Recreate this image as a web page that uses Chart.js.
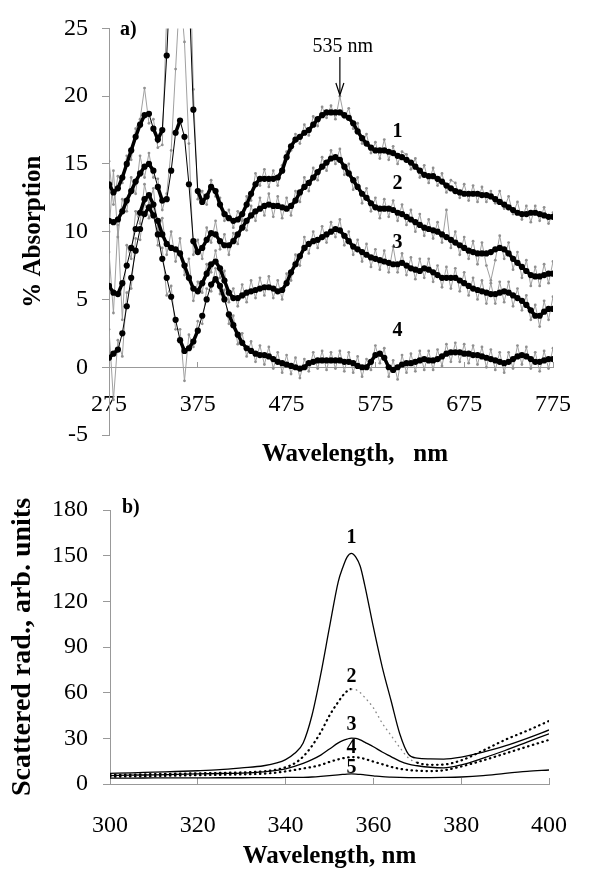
<!DOCTYPE html>
<html>
<head>
<meta charset="utf-8">
<title>Absorption and scattered radiation spectra</title>
<script src="https://cdn.jsdelivr.net/npm/chart.js@4.4.1/dist/chart.umd.min.js"></script>
<style>
  body { margin: 0; background: #fff; }
  #wrap { position: relative; width: 600px; height: 869px; }
  canvas { position: absolute; left: 0; }
  #chartA { top: 0; }
  #chartB { top: 470px; }
</style>
</head>
<body>
<div id="wrap">
  <canvas id="chartA" width="600" height="470"></canvas>
  <canvas id="chartB" width="600" height="399"></canvas>
</div>
<script>
// ---- panel a) : % absorption, 275-775 nm, 5 nm steps ----
const wavelengthsA = [
  275, 280, 285, 290, 295, 300, 305, 310, 315, 320,
  325, 330, 335, 340, 345, 350, 355, 360, 365, 370,
  375, 380, 385, 390, 395, 400, 405, 410, 415, 420,
  425, 430, 435, 440, 445, 450, 455, 460, 465, 470,
  475, 480, 485, 490, 495, 500, 505, 510, 515, 520,
  525, 530, 535, 540, 545, 550, 555, 560, 565, 570,
  575, 580, 585, 590, 595, 600, 605, 610, 615, 620,
  625, 630, 635, 640, 645, 650, 655, 660, 665, 670,
  675, 680, 685, 690, 695, 700, 705, 710, 715, 720,
  725, 730, 735, 740, 745, 750, 755, 760, 765, 770,
  775
];
const xTicksA = [275, 375, 475, 575, 675, 775];
const curveNamesA = ['1', '2', '3', '4'];

// smoothed curves (black dots)
const smooth1 = [
  13.5, 12.9, 13.2, 14.0, 15.0, 16.0, 17.0, 17.9, 18.6, 18.7,
  17.6, 16.8, 17.5, 23.0, 30.0, 35.0, 38.0, 35.0, 28.0, 19.0,
  13.0, 12.2, 12.6, 13.3, 13.0, 12.0, 11.3, 11.0, 10.8, 10.9,
  11.3, 12.0, 12.8, 13.5, 13.9, 13.9, 13.9, 13.9, 14.0, 14.5,
  15.5, 16.3, 16.8, 17.0, 17.3, 17.5, 17.9, 18.3, 18.6, 18.8,
  18.8, 18.8, 18.8, 18.6, 18.4, 18.0, 17.4, 16.9, 16.5, 16.2,
  16.0, 16.0, 16.0, 15.9, 15.8, 15.6, 15.5, 15.3, 15.1, 14.8,
  14.5, 14.2, 14.1, 14.1, 13.9, 13.7, 13.4, 13.2, 13.0, 12.9,
  12.8, 12.8, 12.8, 12.8, 12.7, 12.7, 12.6, 12.4, 12.2, 12.0,
  11.8, 11.6, 11.4, 11.3, 11.3, 11.4, 11.4, 11.3, 11.2, 11.1,
  11.1
];
const smooth2 = [
  10.8, 10.7, 10.9, 11.5, 12.3, 13.0, 13.7, 14.3, 14.8, 15.0,
  14.5, 13.3, 12.3, 12.4, 14.5, 17.3, 18.2, 17.0, 13.5, 9.3,
  8.5, 8.8, 9.4, 9.9, 9.8, 9.3, 9.0, 9.0, 9.3, 9.8,
  10.3, 10.8, 11.2, 11.5, 11.7, 11.9, 12.0, 11.9, 11.9, 11.8,
  11.7, 11.9, 12.3, 12.9, 13.3, 13.6, 14.0, 14.4, 14.8, 15.1,
  15.4, 15.5, 15.3, 14.8, 14.3, 13.8, 13.3, 12.8, 12.5, 12.1,
  11.8, 11.7, 11.7, 11.7, 11.6, 11.4, 11.3, 11.1, 10.9, 10.7,
  10.5, 10.3, 10.2, 10.1, 10.0, 9.8, 9.6, 9.4, 9.2, 9.0,
  8.8, 8.6, 8.5, 8.4, 8.4, 8.4, 8.5, 8.7, 8.8, 8.7,
  8.4, 8.0, 7.7, 7.4, 7.1, 6.8, 6.7, 6.7, 6.8, 6.9,
  6.9
];
const smooth3 = [
  6.0, 5.5, 5.4, 6.2, 7.5, 8.8, 10.2, 11.4, 12.4, 12.7,
  12.0, 10.8, 9.8, 9.1, 8.8, 8.7, 8.4, 7.5, 6.6, 5.8,
  5.6, 6.2, 6.9, 7.6, 7.8, 7.3, 6.4, 5.5, 5.1, 5.1,
  5.3, 5.5, 5.6, 5.7, 5.8, 5.9, 5.9, 5.8, 5.6, 5.7,
  6.2, 7.0, 7.6, 8.2, 8.8, 9.1, 9.3, 9.4, 9.6, 9.8,
  10.0, 10.2, 10.1, 9.7, 9.3, 8.9, 8.7, 8.5, 8.3, 8.1,
  8.0, 7.9, 7.8, 7.7, 7.6, 7.6, 7.7, 7.5, 7.3, 7.2,
  7.1, 7.3, 7.2, 7.0, 6.8, 6.6, 6.6, 6.6, 6.6, 6.4,
  6.2, 6.0, 5.8, 5.7, 5.6, 5.5, 5.4, 5.4, 5.5, 5.6,
  5.5, 5.3, 5.1, 4.9, 4.6, 4.2, 3.8, 3.8, 4.1, 4.3,
  4.3
];
const smooth4 = [
  0.7, 1.0, 1.3, 2.5, 4.5, 6.6, 8.6, 10.2, 11.3, 11.8,
  11.2, 9.8, 8.0, 6.6, 5.2, 3.5, 2.0, 1.2, 1.4, 1.9,
  2.7, 3.8, 5.0, 6.1, 6.5, 6.0, 5.0, 3.9, 3.1, 2.4,
  1.8, 1.4, 1.2, 1.0, 0.9, 0.9, 0.8, 0.6, 0.4, 0.3,
  0.2, 0.1, 0.0, -0.1, 0.0, 0.3, 0.4, 0.5, 0.5, 0.5,
  0.5, 0.5, 0.5, 0.4, 0.4, 0.3, 0.1, 0.0, 0.0, 0.4,
  0.9, 1.0, 0.7, 0.0, -0.2, 0.0, 0.2, 0.3, 0.3, 0.4,
  0.5, 0.6, 0.5, 0.5, 0.6, 0.8, 1.0, 1.1, 1.1, 1.1,
  1.0, 1.0, 0.9, 0.9, 0.8, 0.7, 0.6, 0.5, 0.4, 0.3,
  0.4, 0.6, 0.8, 0.9, 0.8, 0.6, 0.4, 0.4, 0.5, 0.6,
  0.6
];

// raw measured curves (grey)
const raw1 = [
  15.2, 12.0, 14.1, 13.6, 15.6, 15.3, 17.6, 18.3, 20.6, 18.0,
  18.3, 16.2, 16.4, 26.0, 38.0, 45.0, 50.0, 42.0, 33.0, 20.5,
  12.4, 13.0, 12.0, 13.8, 12.6, 12.5, 10.8, 11.6, 10.3, 11.5,
  10.8, 12.6, 12.3, 14.3, 13.4, 14.6, 13.3, 14.5, 13.4, 14.9,
  15.9, 16.0, 17.2, 16.5, 17.9, 17.1, 18.5, 17.8, 19.2, 18.4,
  19.3, 18.3, 20.0, 18.4, 19.1, 17.6, 18.0, 16.5, 17.2, 15.8,
  16.6, 15.4, 16.8, 15.3, 16.3, 15.0, 15.9, 15.7, 14.6, 15.4,
  14.0, 14.9, 13.6, 14.7, 13.4, 14.3, 12.9, 13.8, 13.6, 12.5,
  13.5, 12.3, 13.4, 12.2, 13.3, 12.2, 13.0, 12.1, 13.0, 11.7,
  12.6, 11.3, 12.2, 10.9, 11.9, 10.7, 11.9, 10.8, 11.8, 10.6,
  11.4
];
const raw2 = [
  10.0, 14.5, 9.6, 12.4, 11.5, 14.0, 12.8, 15.6, 14.0, 15.8,
  14.0, 13.9, 11.6, 12.8, 16.0, 22.0, 28.0, 24.0, 16.5, 8.3,
  9.4, 8.0, 10.3, 9.2, 10.8, 8.7, 9.8, 8.3, 9.9, 9.1,
  10.9, 10.1, 11.9, 10.8, 12.5, 11.2, 12.8, 11.1, 12.6, 11.0,
  12.5, 11.2, 13.0, 12.2, 14.0, 13.0, 14.7, 13.8, 15.5, 14.5,
  16.0, 15.0, 16.1, 14.2, 15.0, 13.1, 14.0, 12.1, 13.2, 11.5,
  12.5, 11.0, 12.4, 11.1, 12.3, 10.8, 12.0, 10.5, 11.6, 10.0,
  11.3, 9.7, 10.9, 9.5, 10.7, 9.2, 11.6, 8.8, 10.0, 8.3,
  9.6, 8.0, 9.3, 7.6, 9.2, 7.5, 6.4, 7.9, 9.7, 8.0,
  9.2, 7.2, 8.5, 6.6, 7.9, 6.0, 7.4, 6.0, 7.6, 6.2,
  7.8
];
const raw3 = [
  8.5, 4.0, 10.5, 3.5, 9.0, 8.0, 11.5, 10.6, 13.5, 12.0,
  13.2, 10.0, 11.0, 8.3, 10.0, 7.8, 9.5, 6.8, 8.0, 4.9,
  6.3, 5.5, 7.6, 7.0, 8.6, 6.6, 7.1, 4.8, 5.8, 4.5,
  6.1, 4.8, 6.4, 5.1, 6.6, 5.3, 6.7, 5.1, 6.4, 5.0,
  6.9, 6.4, 8.3, 7.5, 9.6, 8.4, 10.0, 8.8, 10.4, 9.2,
  10.7, 9.6, 10.9, 9.0, 10.0, 8.3, 9.4, 7.8, 9.1, 7.4,
  8.7, 7.2, 8.6, 7.0, 8.9, 7.0, 8.4, 6.8, 8.1, 6.5,
  8.0, 6.6, 8.0, 6.3, 7.5, 5.9, 7.4, 5.8, 7.3, 5.6,
  7.0, 5.3, 6.6, 5.0, 6.4, 4.7, 6.2, 4.7, 6.3, 4.8,
  6.3, 4.5, 5.8, 4.2, 5.3, 3.5, 4.6, 3.0, 4.9, 3.5,
  5.2
];
const raw4 = [
  2.8, -2.4, 2.0, 0.8, 5.5, 5.8, 9.5, 9.4, 12.2, 11.0,
  12.0, 9.0, 8.8, 5.3, 6.0, 2.8, 2.8, -1.0, 2.4, 1.5,
  3.4, 3.2, 5.8, 5.6, 7.3, 5.4, 5.7, 3.2, 3.8, 1.7,
  2.5, 0.8, 1.9, 0.4, 1.6, 0.2, 1.5, -0.1, 1.1, -0.4,
  0.9, -0.5, 0.7, -0.8, 0.6, -0.3, 1.1, -0.1, 1.2, -0.2,
  1.1, -0.1, 1.2, -0.3, 1.1, -0.4, 0.8, -0.7, 0.6, -0.2,
  1.6, 0.3, 1.4, -0.7, 0.5, -0.9, 0.9, -0.4, 1.0, -0.3,
  1.2, -0.2, 1.2, -0.2, 1.3, 0.1, 1.7, 0.4, 1.8, 0.4,
  1.7, 0.3, 1.6, 0.2, 1.5, 0.0, 1.3, -0.2, 1.1, -0.4,
  1.1, -0.1, 1.6, 0.2, 1.5, -0.1, 1.1, -0.3, 1.2, -0.1,
  1.4
];

// ---- panel b) : scattered radiation, 300-400 nm ----
const wavelengthsB = [
  300, 305, 310, 315, 320, 325, 330, 335, 338, 340,
  342, 344, 346, 348, 350, 352, 353, 354, 355, 356,
  357, 358, 360, 362, 364, 366, 368, 370, 373, 376,
  380, 385, 390, 395, 400
];
const curveNamesB = ['1', '2', '3', '4', '5'];
const scatter1 = [
  7.0, 7.3, 7.8, 8.2, 8.7, 9.4, 10.6, 12.0, 13.8, 16.0,
  20.0, 27.0, 45.0, 72.0, 103.0, 133.0, 142.0, 149.0, 151.5, 149.0,
  143.0, 131.0, 103.0, 77.0, 55.0, 33.0, 19.5, 17.0, 16.5, 16.4,
  17.7, 21.0, 25.0, 30.0, 35.5
];
const scatter2 = [
  6.0, 6.2, 6.5, 6.8, 7.0, 7.3, 7.6, 8.3, 9.5, 11.0,
  13.5, 18.0, 25.0, 34.0, 45.0, 54.0, 58.0, 61.0, 62.4, 62.0,
  60.0, 57.0, 50.0, 40.0, 32.0, 24.0, 17.0, 14.0, 12.6, 12.8,
  15.5, 22.0, 29.0, 35.0, 41.4
];
const scatter3 = [
  5.5, 5.8, 6.0, 6.3, 6.6, 6.9, 7.2, 8.0, 9.0, 10.0,
  11.5, 13.5, 16.0, 19.0, 23.0, 27.0, 28.5, 29.5, 30.2, 30.0,
  29.0, 27.5, 24.5, 21.0, 18.0, 15.0, 13.0, 12.0, 11.0, 10.6,
  12.5, 17.0, 22.0, 27.5, 33.0
];
const scatter4 = [
  4.8, 5.0, 5.2, 5.5, 5.8, 6.0, 6.3, 6.8, 7.5, 8.3,
  9.2, 10.2, 11.2, 12.5, 14.5, 16.2, 16.9, 17.4, 17.7, 17.6,
  17.2, 16.5, 14.7, 13.0, 11.3, 10.0, 9.2, 8.7, 8.5, 9.0,
  11.5, 15.5, 20.0, 24.5, 29.0
];
const scatter5 = [
  3.9, 3.9, 4.0, 4.0, 4.0, 4.1, 4.1, 4.2, 4.2, 4.3,
  4.3, 4.4, 4.6, 5.0, 5.5, 6.0, 6.3, 6.5, 6.6, 6.5,
  6.3, 6.0, 5.4, 4.8, 4.5, 4.3, 4.2, 4.2, 4.2, 4.3,
  4.6, 5.5, 7.0, 8.3, 9.2
];

Chart.defaults.font.family = "'Liberation Serif', 'Times New Roman', serif";
Chart.defaults.color = '#000';
Chart.defaults.animation = false;

const axisGrey = '#999';
const pts = (xs, ys) => xs.map((x, i) => ({ x: x, y: ys[i] }));

function smoothSet(values) {
  return {
    data: pts(wavelengthsA, values),
    borderColor: '#000', borderWidth: 3.5,
    pointRadius: 3.1, pointBackgroundColor: '#000', pointBorderWidth: 0,
    // on very steep stretches the dots separate and only a thin line joins them
    segment: { borderWidth: c => (Math.abs(c.p1.y - c.p0.y) > 14 ? 1 : undefined) },
    order: 0
  };
}
function rawSet(values) {
  return {
    data: pts(wavelengthsA, values),
    borderColor: '#a0a0a0', borderWidth: 1,
    pointRadius: 1.4, pointBackgroundColor: '#909090', pointBorderWidth: 0,
    order: 1
  };
}

const panelAText = {
  id: 'panelAText',
  afterDraw(chart) {
    const { ctx, chartArea, scales: { x, y } } = chart;
    ctx.save();
    ctx.fillStyle = '#000';
    ctx.strokeStyle = '#000';
    ctx.textBaseline = 'middle';

    ctx.font = "bold 20px 'Liberation Serif', serif";
    ctx.textAlign = 'left';
    ctx.fillText('a)', chartArea.left + 11, chartArea.top + 1);

    // curve numbers
    ctx.textAlign = 'center';
    const labelLevels = [17.4, 13.5, 9.2, 2.7];
    curveNamesA.forEach((name, i) => {
      ctx.fillText(name, x.getPixelForValue(600), y.getPixelForValue(labelLevels[i]));
    });

    // 535 nm arrow
    const px = x.getPixelForValue(535);
    ctx.font = "20px 'Liberation Serif', serif";
    ctx.fillText('535 nm', px + 3, 47);
    ctx.lineWidth = 1.2;
    ctx.beginPath();
    ctx.moveTo(px, 57);
    ctx.lineTo(px, 94);
    ctx.stroke();
    ctx.beginPath();
    ctx.moveTo(px - 4, 83);
    ctx.lineTo(px, 95);
    ctx.lineTo(px + 4, 83);
    ctx.stroke();

    // x axis title
    ctx.font = "bold 25px 'Liberation Serif', serif";
    ctx.fillText('Wavelength,   nm', (chartArea.left + chartArea.right) / 2 + 24, y.getPixelForValue(0) + 87);
    ctx.restore();
  }
};

new Chart(document.getElementById('chartA'), {
  type: 'line',
  data: {
    datasets: [
      smoothSet(smooth1), smoothSet(smooth2), smoothSet(smooth3), smoothSet(smooth4),
      rawSet(raw1), rawSet(raw2), rawSet(raw3), rawSet(raw4)
    ]
  },
  options: {
    responsive: false,
    layout: { padding: { left: 0, right: 20, top: 26, bottom: 35 } },
    plugins: { legend: { display: false }, tooltip: { enabled: false } },
    scales: {
      x: {
        type: 'linear', min: 275, max: 775,
        position: { y: 0 },
        afterBuildTicks: s => { s.ticks = xTicksA.map(v => ({ value: v })); },
        afterFit: s => { s.height = 0; },
        grid: { drawOnChartArea: false, tickLength: -6, color: axisGrey },
        border: { color: axisGrey, width: 1 },
        ticks: { padding: 29, font: { size: 24 }, maxRotation: 0, autoSkip: false }
      },
      y: {
        min: -5, max: 25,
        afterFit: s => { s.width = 109; },
        grid: { drawOnChartArea: false, tickLength: 7, color: axisGrey },
        border: { color: axisGrey, width: 1 },
        ticks: { stepSize: 5, padding: 14, font: { size: 24 } },
        title: {
          display: true, text: '% Absorption',
          font: { size: 25, weight: 'bold', lineHeight: 1 },
          padding: { top: 21, bottom: 0 }
        }
      }
    }
  },
  plugins: [panelAText]
});

const panelBText = {
  id: 'panelBText',
  afterDraw(chart) {
    const { ctx, chartArea, scales: { x, y } } = chart;
    ctx.save();
    ctx.fillStyle = '#000';
    ctx.textBaseline = 'middle';
    ctx.font = "bold 20px 'Liberation Serif', serif";
    ctx.textAlign = 'left';
    ctx.fillText('b)', chartArea.left + 12, chartArea.top - 2);
    ctx.textAlign = 'center';
    const labelLevels = [161.6, 70.3, 38.8, 23.7, 10.5];
    curveNamesB.forEach((name, i) => {
      ctx.fillText(name, x.getPixelForValue(355), y.getPixelForValue(labelLevels[i]));
    });
    ctx.restore();
  }
};

function lineB(values, dotted) {
  const set = {
    data: pts(wavelengthsB, values),
    borderColor: '#000',
    borderWidth: dotted ? 2.2 : 1.3,
    pointRadius: 0,
    cubicInterpolationMode: 'monotone'
  };
  if (dotted) {
    set.borderDash = [0.5, 4.5];
    set.borderCapStyle = 'round';
  }
  return set;
}
const curve2 = lineB(scatter2, true);
// the falling side of curve 2 is printed lighter
curve2.segment = {
  borderColor: c => (c.p0.parsed.x >= 355 && c.p0.parsed.x < 370 ? '#8a8a8a' : undefined),
  borderWidth: c => (c.p0.parsed.x >= 355 && c.p0.parsed.x < 370 ? 1.4 : undefined)
};

new Chart(document.getElementById('chartB'), {
  type: 'line',
  data: {
    datasets: [
      lineB(scatter1, false), curve2, lineB(scatter3, false),
      lineB(scatter4, true), lineB(scatter5, false)
    ]
  },
  options: {
    responsive: false,
    layout: { padding: { left: 0, right: 33, top: 40, bottom: 0 } },
    plugins: { legend: { display: false }, tooltip: { enabled: false } },
    scales: {
      x: {
        type: 'linear', min: 300, max: 400,
        afterFit: s => { s.height = 85; },
        grid: { drawOnChartArea: false, tickLength: -6, color: axisGrey },
        border: { color: axisGrey, width: 1 },
        ticks: { stepSize: 20, padding: 33, font: { size: 24 }, maxRotation: 0 },
        title: {
          display: true, text: 'Wavelength, nm',
          font: { size: 25, weight: 'bold', lineHeight: 1 },
          padding: { top: 0, bottom: 0 }
        }
      },
      y: {
        min: 0, max: 180,
        afterFit: s => { s.width = 110; },
        grid: { drawOnChartArea: false, tickLength: 7, color: axisGrey },
        border: { color: axisGrey, width: 1 },
        ticks: { stepSize: 30, padding: 15, font: { size: 24 } },
        title: {
          display: true, text: 'Scattered rad., arb. units',
          font: { size: 28, weight: 'bold', lineHeight: 1 },
          padding: { top: 9, bottom: 0 }
        }
      }
    }
  },
  plugins: [panelBText]
});
</script>
</body>
</html>
